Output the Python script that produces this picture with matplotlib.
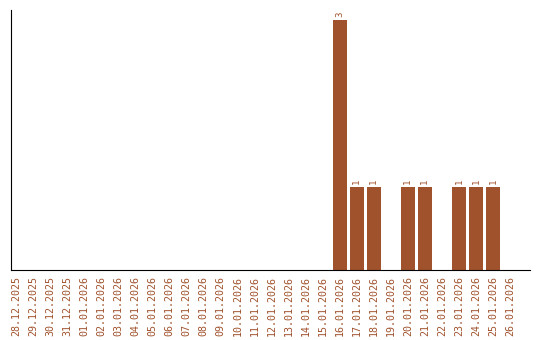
import matplotlib
matplotlib.use("Agg")
import matplotlib.pyplot as plt

dates = ["28.12.2025", "29.12.2025", "30.12.2025", "31.12.2025",
         "01.01.2026", "02.01.2026", "03.01.2026", "04.01.2026",
         "05.01.2026", "06.01.2026", "07.01.2026", "08.01.2026",
         "09.01.2026", "10.01.2026", "11.01.2026", "12.01.2026",
         "13.01.2026", "14.01.2026", "15.01.2026", "16.01.2026",
         "17.01.2026", "18.01.2026", "19.01.2026", "20.01.2026",
         "21.01.2026", "22.01.2026", "23.01.2026", "24.01.2026",
         "25.01.2026", "26.01.2026"]
counts = [0, 0, 0, 0, 0, 0, 0, 0, 0, 0, 0, 0, 0, 0, 0, 0, 0, 0, 0,
          3, 1, 1, 0, 1, 1, 0, 1, 1, 1, 0]

color = "#a0522d"

fig = plt.figure(figsize=(5.4, 3.4), dpi=100)
ax = fig.add_axes([0.0204, 0.2059, 0.9611, 0.7647])

x = range(len(dates))
ax.bar(x, counts, width=0.82, color=color)

# Werte über den Balken
for i, v in enumerate(counts):
    if v > 0:
        ax.text(i, v + 0.03, str(v), rotation=90, ha="center", va="bottom",
                fontsize=6.5, color=color, family="DejaVu Sans Mono")

ax.set_xlim(-0.32, 30.18)
ax.set_ylim(0, 3.12)
ax.set_xticks(list(x))
ax.set_xticklabels(dates, rotation=90, fontsize=7.2, color=color,
                   family="DejaVu Sans Mono")
ax.set_yticks([])
ax.tick_params(axis="x", length=0, pad=4)
ax.spines["top"].set_visible(False)
ax.spines["right"].set_visible(False)

fig.savefig("out.png", dpi=100)
